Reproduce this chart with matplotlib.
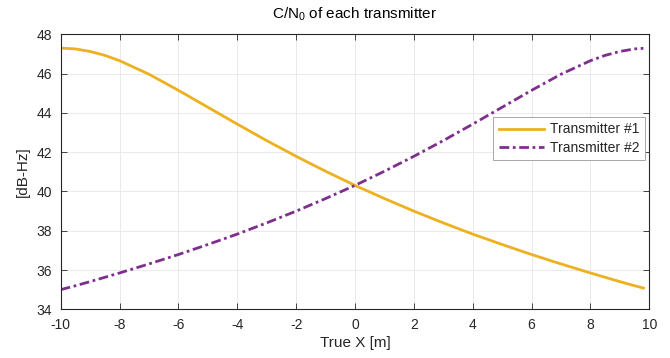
import matplotlib
matplotlib.use("Agg")
import matplotlib.pyplot as plt

x = [-10, -9.5, -9, -8.5, -8, -7, -6, -5, -4, -3, -2, -1, 0,
     1, 2, 3, 4, 5, 6, 7, 8, 8.5, 9, 9.5, 9.8]
tx1 = [47.30, 47.26, 47.13, 46.93, 46.66, 45.97, 45.15, 44.29, 43.43, 42.59, 41.79, 41.03, 40.31,
       39.64, 39.00, 38.40, 37.83, 37.30, 36.79, 36.31, 35.85, 35.63, 35.41, 35.20, 35.08]
tx2 = [35.00, 35.20, 35.41, 35.63, 35.85, 36.31, 36.79, 37.30, 37.83, 38.40, 39.00, 39.64, 40.31,
       41.03, 41.79, 42.59, 43.43, 44.29, 45.15, 45.97, 46.66, 46.93, 47.13, 47.26, 47.29]
labels = ["Transmitter #1", "Transmitter #2"]

plt.rcParams['font.family'] = ['Liberation Sans', 'DejaVu Sans']
plt.rcParams['mathtext.fontset'] = 'custom'
plt.rcParams['mathtext.rm'] = 'Liberation Sans'
plt.rcParams['mathtext.it'] = 'Liberation Sans'
plt.rcParams['axes.unicode_minus'] = False

txt = '#262626'
fig = plt.figure(figsize=(6.7, 3.58), dpi=100)
ax = fig.add_axes([0.0906, 0.136, 0.8785, 0.768])

ax.plot(x, tx1, color='#EDB120', lw=2, label=labels[0])
ax.plot(x, tx2, color='#7E2F8E', lw=2, ls=(0, (3.5, 1.3, 1.0, 1.3)), label=labels[1])

ax.set_xlim(-10, 10)
ax.set_ylim(34, 48)
ax.set_xticks(range(-10, 11, 2))
ax.set_yticks(range(34, 49, 2))
ax.grid(True, color='#e6e6e6', lw=0.6)
ax.tick_params(direction='in', top=True, right=True, length=4, width=0.6,
               colors=txt, labelsize=10, labelcolor=txt, pad=6)
for s in ax.spines.values():
    s.set_color(txt)
    s.set_linewidth(0.8)

ax.set_xlabel("True X [m]", fontsize=11, color=txt, labelpad=3)
ax.set_ylabel("[dB-Hz]", fontsize=11, color=txt, labelpad=5)
ax.set_title("C/N$_{\\mathregular{0}}$ of each transmitter", fontsize=11, color='black', pad=11)

leg = ax.legend(loc='upper right', bbox_to_anchor=(0.993, 0.70), borderaxespad=0,
                fontsize=10, fancybox=False, edgecolor='#999999', framealpha=1,
                handlelength=3.3, handletextpad=0.4, borderpad=0.4, labelspacing=0.3)
leg.get_frame().set_linewidth(0.6)
for t in leg.get_texts():
    t.set_color(txt)

fig.savefig("out.png", dpi=100)
